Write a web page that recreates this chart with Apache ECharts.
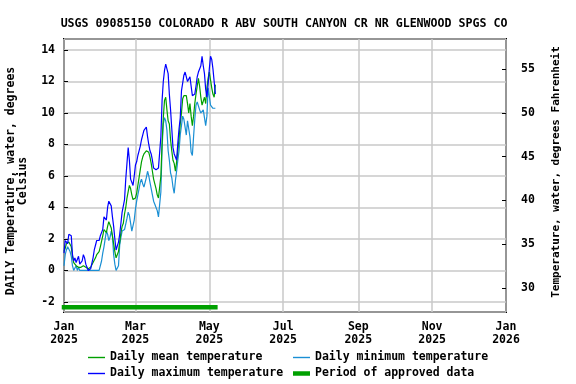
<!DOCTYPE html>
<html><head><meta charset="utf-8">
<script src="https://cdn.jsdelivr.net/npm/echarts@6/dist/echarts.min.js"></script>
<style>html,body{margin:0;padding:0;background:#fff}#c{width:576px;height:384px}</style>
</head><body><div id="c"></div>
<script>
const titleText = 'USGS 09085150 COLORADO R ABV SOUTH CANYON CR NR GLENWOOD SPGS CO';
const leftAxisTitle = 'DAILY Temperature, water, degrees\nCelsius';
const rightAxisTitle = 'Temperature, water, degrees Fahrenheit';
const firstDay = '2025-01-01';
const seriesNames = ['Daily mean temperature', 'Daily minimum temperature', 'Daily maximum temperature', 'Period of approved data'];

const maxTemp = [
  1.1, 1.9, 1.8, 1.7, 2.3, 2.4, 2.2, 1.0, 0.6, 0.8,
  0.5, 0.7, 0.9, 0.4, 0.3, 0.6, 1.0, 0.8, 0.4, 0.2,
  0.0, 0.0, 0.1, 0.2, 0.8, 1.3, 1.6, 1.9, 1.8, 1.9,
  2.2, 2.4, 2.6, 3.4, 3.5, 3.2, 4.0, 4.4, 4.4, 4.1,
  3.4, 2.8, 2.0, 1.3, 1.2, 1.8, 2.3, 3.0, 3.7, 3.8,
  4.5, 5.8, 6.8, 7.8, 7.0, 5.8, 5.6, 5.4, 6.0, 6.7,
  6.9, 7.3, 7.6, 7.9, 8.3, 8.6, 8.9, 9.0, 9.1, 8.5,
  8.0, 7.6, 7.4, 7.0, 6.5, 6.4, 6.4, 6.4, 6.5, 6.6,
  8.5, 10.8, 12.0, 12.7, 13.1, 13.1, 12.5, 11.2, 10.2, 9.0,
  7.8, 7.4, 7.2, 7.0, 8.1, 9.0, 9.7, 11.4, 11.9, 12.4,
  12.6, 12.5, 12.0, 12.0, 12.3, 11.7, 11.1, 11.0, 11.2, 11.7,
  12.3, 12.6, 12.8, 13.0, 13.6, 13.0, 12.5, 11.5, 11.0, 11.8,
  12.8, 13.6, 13.4, 12.8, 12.0, 11.2
];
const meanTemp = [
  1.2, 1.4, 1.7, 1.8, 1.8, 1.8, 1.5, 0.9, 0.5, 0.4,
  0.3, 0.2, 0.2, 0.2, 0.2, 0.2, 0.3, 0.2, 0.2, 0.1,
  0.1, 0.1, 0.2, 0.3, 0.5, 0.6, 0.8, 1.0, 1.0, 1.2,
  1.5, 1.6, 2.2, 2.6, 2.5, 2.4, 2.8, 3.1, 3.0, 2.7,
  2.2, 1.7, 1.2, 0.8, 0.7, 1.2, 1.8, 2.4, 2.8, 3.0,
  3.6, 4.0, 4.6, 5.0, 5.4, 5.2, 4.8, 4.5, 4.4, 4.6,
  4.9, 5.4, 5.9, 6.4, 6.9, 7.2, 7.4, 7.5, 7.6, 7.6,
  7.5, 7.2, 6.8, 6.3, 5.8, 5.5, 5.2, 4.8, 4.6, 4.6,
  6.0, 8.1, 9.7, 10.8, 11.0, 10.2, 9.5, 9.3, 8.3, 7.6,
  7.0, 6.8, 6.3, 6.9, 7.6, 8.4, 9.3, 10.0, 10.9, 11.1,
  11.1, 11.1, 10.6, 10.0, 10.6, 9.8, 9.2, 9.8, 10.6, 11.2,
  11.7, 12.2, 11.7, 11.0, 10.5, 10.6, 11.0, 10.6, 11.6, 12.2,
  12.6, 12.6, 11.6, 11.2, 11.0, 11.8
];
const minTemp = [
  0.3, 1.0, 1.3, 1.5, 1.4, 1.2, 0.9, 0.3, 0.0, 0.1,
  0.3, 0.0, 0.2, 0.0, 0.0, 0.0, 0.0, 0.0, 0.0, 0.0,
  0.0, 0.0, 0.0, 0.0, 0.0, 0.0, 0.0, 0.0, 0.0, 0.0,
  0.0, 0.6, 1.1, 1.5, 2.0, 2.5, 2.3, 1.9, 2.1, 2.5,
  2.2, 1.0, 0.4, 0.0, 0.0, 0.3, 1.6, 2.1, 2.5, 2.4,
  2.6, 2.5, 3.3, 3.7, 3.5, 3.0, 2.5, 2.5, 3.2, 3.9,
  4.4, 4.8, 5.2, 5.6, 5.8, 5.5, 5.3, 5.4, 5.9, 6.3,
  6.0, 5.6, 5.2, 4.8, 4.4, 4.2, 4.0, 3.8, 3.4, 3.3,
  5.0, 7.8, 9.3, 9.7, 9.5, 8.9, 7.6, 7.0, 6.2, 5.9,
  5.3, 4.9, 5.7, 6.3, 7.0, 7.6, 8.6, 9.2, 9.8, 9.6,
  9.6, 8.6, 9.5, 9.0, 8.5, 7.5, 7.3, 8.5, 9.6, 10.5,
  10.7, 10.6, 10.2, 10.0, 10.0, 10.2, 10.2, 9.2, 9.8, 11.6,
  11.7, 10.5, 10.4, 10.3, 10.4, 10.3
];
const approvedPeriod = ['2025-01-01', '2025-05-06'];
const approvedLevel = -2.34;
const xTickDates = ['2025-01-01', '2025-03-01', '2025-05-01', '2025-07-01', '2025-09-01', '2025-11-01', '2026-01-01'];
const xRange = ['2025-01-01', '2026-01-01'];
const monthNames = ['Jan', 'Feb', 'Mar', 'Apr', 'May', 'Jun', 'Jul', 'Aug', 'Sep', 'Oct', 'Nov', 'Dec'];
const celsiusRange = [-2.64, 14.70];

function ts(s) { const p = s.split('-').map(Number); return new Date(p[0], p[1] - 1, p[2]).getTime(); }
function dayTs(i) { const p = firstDay.split('-').map(Number); return new Date(p[0], p[1] - 1, p[2] + i).getTime(); }
function pairs(arr) { return arr.map((v, i) => [dayTs(i), v]); }
const cToF = c => c * 1.8 + 32;

const FONT = 'DejaVu Sans Mono';
const txt = { fontFamily: FONT, fontWeight: 'bold', fontSize: 11.5, color: '#000' };
const COLORS = { mean: '#00a000', min: '#1a8fd4', max: '#0000ff', approved: '#00a000' };

const chart = echarts.init(document.getElementById('c'), null, { renderer: 'canvas' });
const legendBase = { orient: 'horizontal', itemWidth: 17, itemGap: 0, padding: 0, textStyle: Object.assign({}, txt), selectedMode: false, icon: 'rect' };
chart.setOption({
  animation: false,
  backgroundColor: '#fff',
  title: { text: titleText, left: 279, top: 13, textAlign: 'center', textStyle: Object.assign({}, txt, { fontSize: 11.6 }) },
  grid: { left: 64, right: 70, top: 39, bottom: 72, show: true, borderColor: '#000', borderWidth: 2, backgroundColor: 'transparent' },
  legend: [
    Object.assign({}, legendBase, { data: [seriesNames[0]], left: 88, top: 351.5, itemHeight: 1.4 }),
    Object.assign({}, legendBase, { data: [seriesNames[1]], left: 293, top: 351.5, itemHeight: 1.4 }),
    Object.assign({}, legendBase, { data: [seriesNames[2]], left: 88, top: 367.5, itemHeight: 1.4 }),
    Object.assign({}, legendBase, { data: [seriesNames[3]], left: 293, top: 367.5, itemHeight: 4.5 })
  ],
  xAxis: {
    type: 'value', min: ts(xRange[0]), max: ts(xRange[1]),
    axisLine: { show: false },
    axisTick: { show: false, customValues: xTickDates.map(ts) },
    splitLine: { show: true, lineStyle: { color: '#c8c8c8', width: 1.5 } },
    axisLabel: {
      customValues: xTickDates.map(ts), margin: 8, lineHeight: 13.5,
      fontFamily: FONT, fontWeight: 'bold', fontSize: 11.5, color: '#000',
      formatter: v => { const d = new Date(v); return monthNames[d.getMonth()] + '\n' + d.getFullYear(); },
      hideOverlap: false
    }
  },
  yAxis: [
    {
      type: 'value', min: celsiusRange[0], max: celsiusRange[1], splitNumber: 8,
      axisLine: { show: false },
      axisTick: { show: true, inside: true, length: 4, lineStyle: { color: '#000', width: 1 } },
      splitLine: { show: true, lineStyle: { color: '#c8c8c8', width: 1.5 } },
      axisLabel: { margin: 9, showMinLabel: false, showMaxLabel: false, fontFamily: FONT, fontWeight: 'bold', fontSize: 11.5, color: '#000' }
    },
    {
      type: 'value', position: 'right', min: cToF(celsiusRange[0]), max: cToF(celsiusRange[1]), splitNumber: 5,
      axisLine: { show: false },
      axisTick: { show: true, inside: true, length: 4, lineStyle: { color: '#000', width: 1 } },
      splitLine: { show: false },
      axisLabel: { margin: 15, showMinLabel: false, showMaxLabel: false, fontFamily: FONT, fontWeight: 'bold', fontSize: 11.5, color: '#000' }
    }
  ],
  graphic: [
    { type: 'text', x: 17.5, y: 181, rotation: Math.PI / 2, style: { text: leftAxisTitle, align: 'center', verticalAlign: 'middle', lineHeight: 12, font: 'bold 11.5px "DejaVu Sans Mono"', fill: '#000' } },
    { type: 'text', x: 556, y: 172, rotation: Math.PI / 2, style: { text: rightAxisTitle, align: 'center', verticalAlign: 'middle', font: 'bold 11px "DejaVu Sans Mono"', fill: '#000' } }
  ],
  series: [
    { name: seriesNames[1], type: 'line', data: pairs(minTemp), symbol: 'none', lineStyle: { color: COLORS.min, width: 1.2 }, itemStyle: { color: COLORS.min }, silent: true },
    { name: seriesNames[0], type: 'line', data: pairs(meanTemp), symbol: 'none', lineStyle: { color: COLORS.mean, width: 1.2 }, itemStyle: { color: COLORS.mean }, silent: true },
    { name: seriesNames[2], type: 'line', data: pairs(maxTemp), symbol: 'none', lineStyle: { color: COLORS.max, width: 1.2 }, itemStyle: { color: COLORS.max }, silent: true },
    { name: seriesNames[3], type: 'line', data: approvedPeriod.map(d => [ts(d), approvedLevel]), symbol: 'none', clip: false, lineStyle: { color: COLORS.approved, width: 4.5, cap: 'square' }, itemStyle: { color: COLORS.approved }, silent: true }
  ]
});
</script></body></html>
